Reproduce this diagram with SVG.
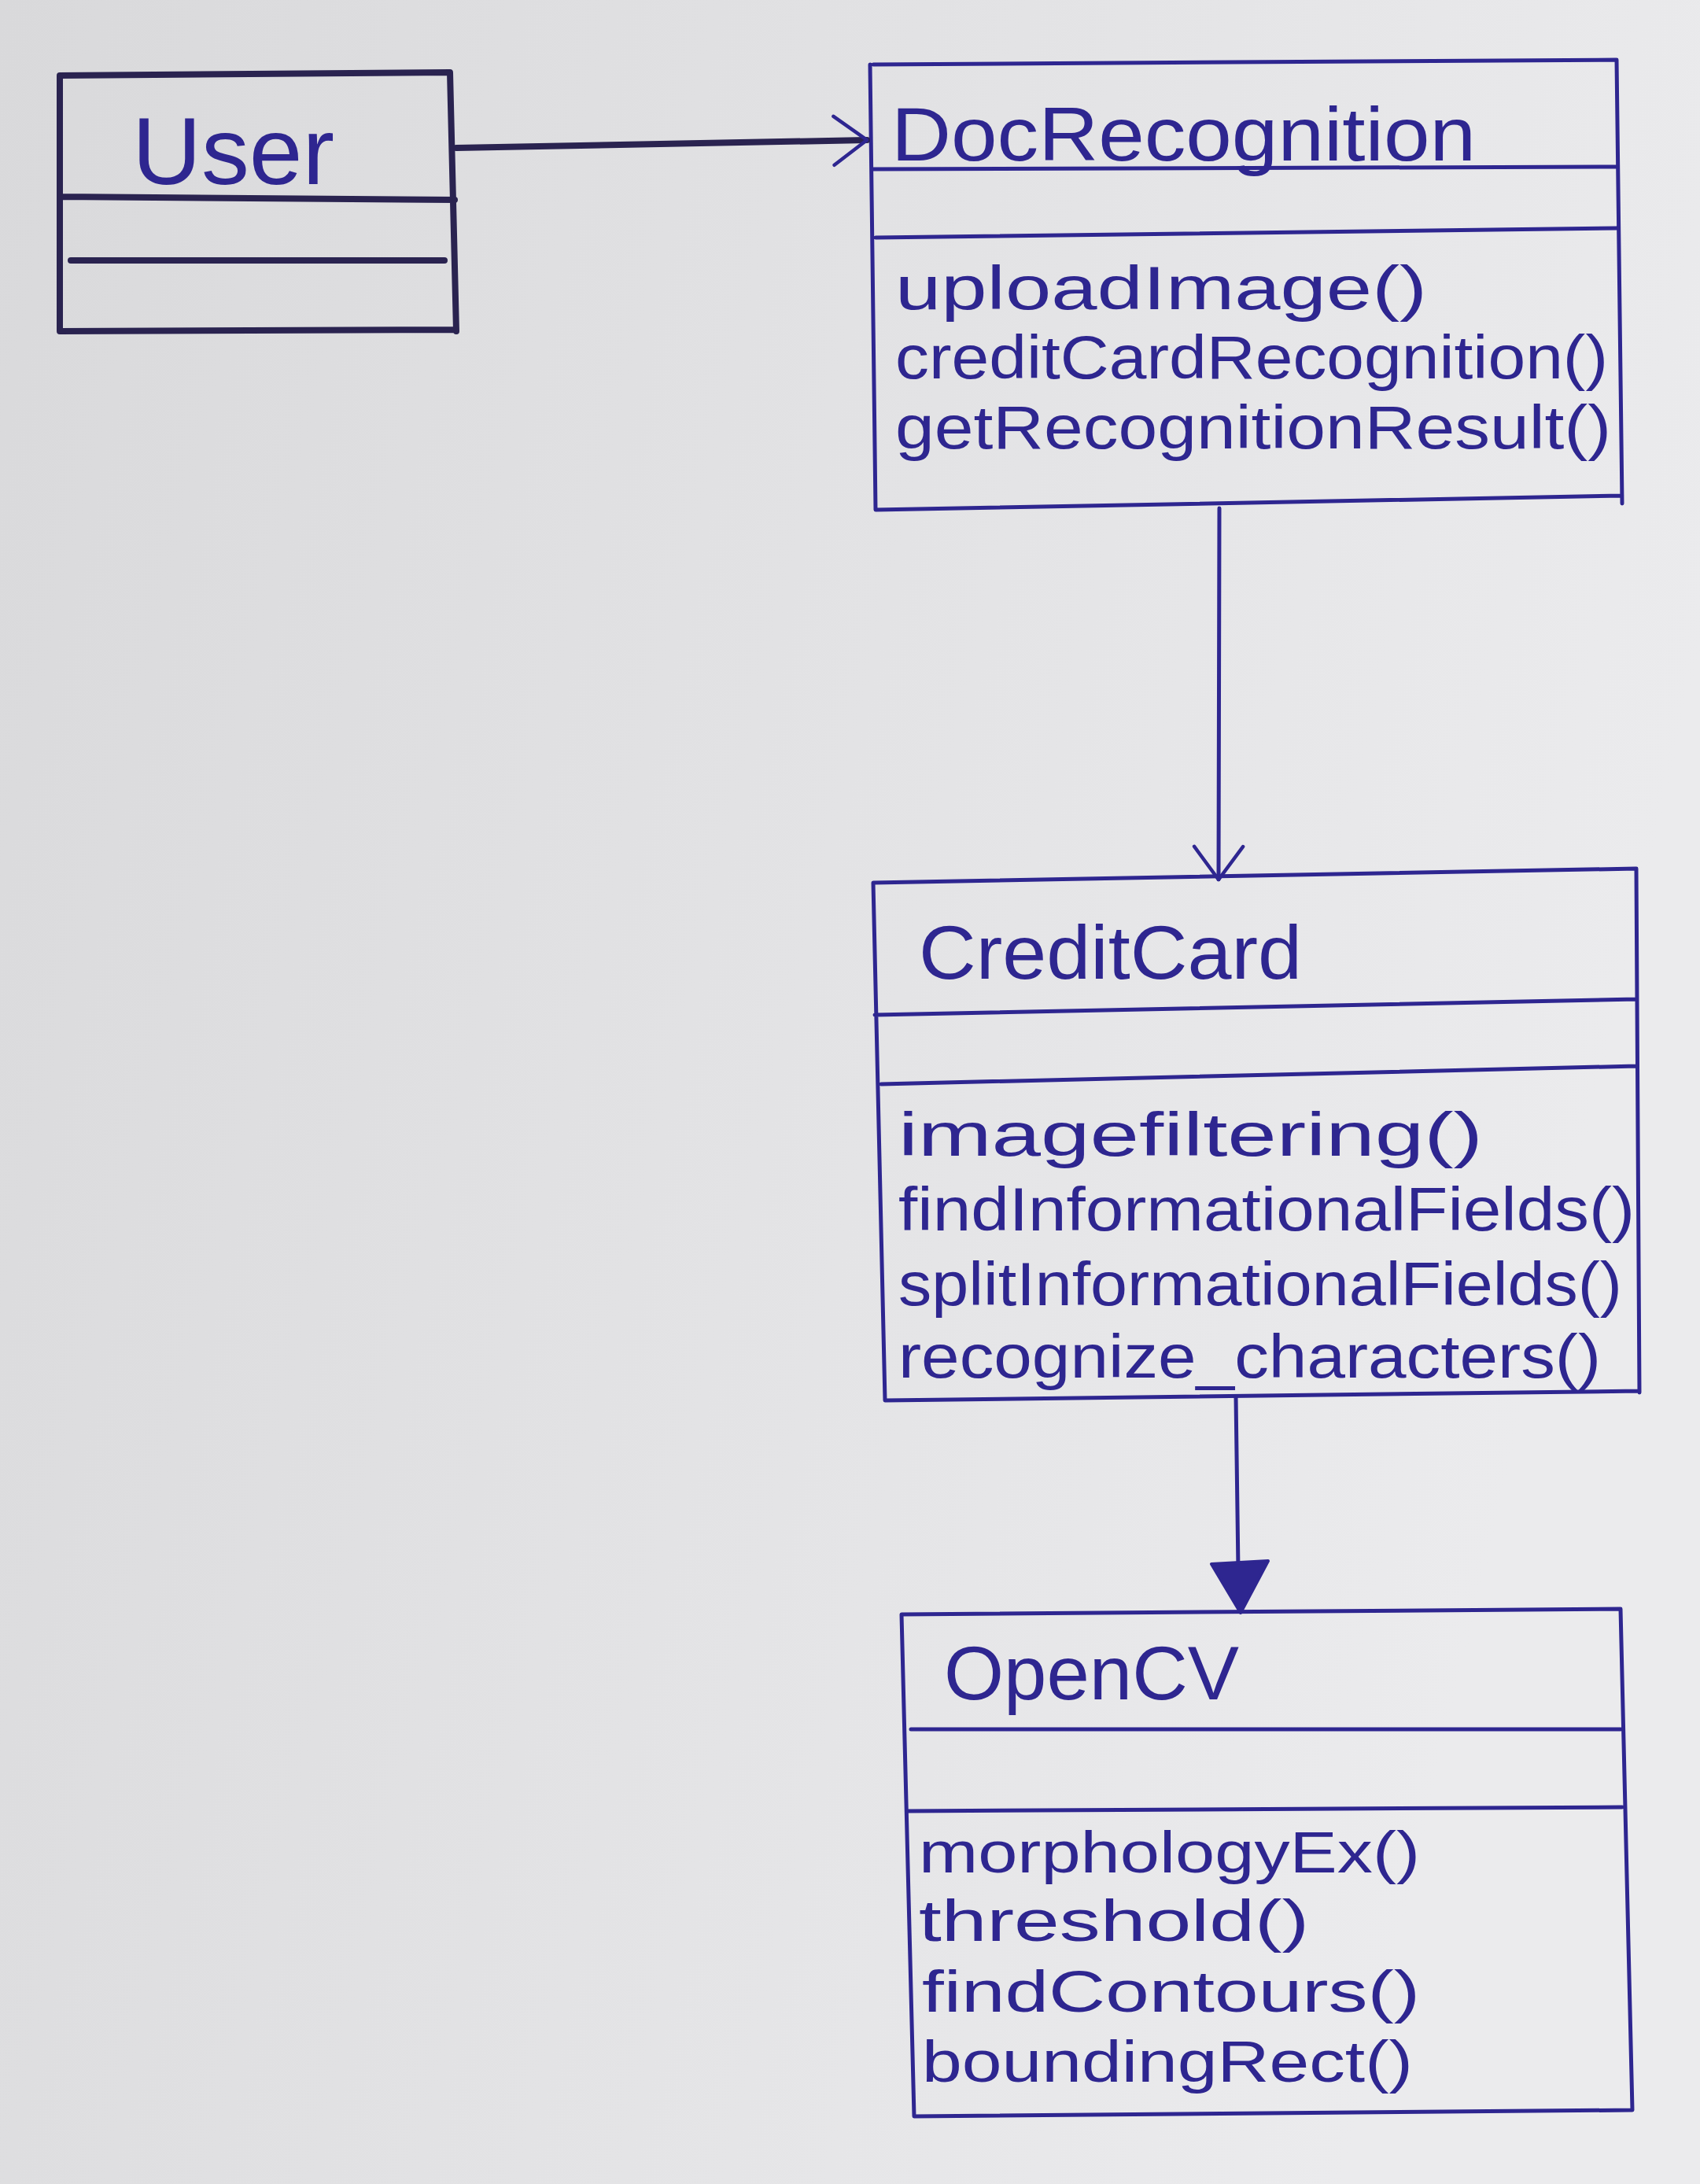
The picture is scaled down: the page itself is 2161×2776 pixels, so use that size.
<svg xmlns="http://www.w3.org/2000/svg" width="2161" height="2776" viewBox="0 0 2161 2776">
<defs>
<linearGradient id="paper" x1="0" y1="0" x2="1" y2="0.3">
<stop offset="0" stop-color="#d9d9db"/>
<stop offset="0.5" stop-color="#e2e2e4"/>
<stop offset="1" stop-color="#ebebed"/>
</linearGradient>
<marker id="open" viewBox="0 0 50 70" refX="48" refY="35" markerWidth="50" markerHeight="70" markerUnits="userSpaceOnUse" orient="auto">
<path d="M6,4 L48,35 L6,66" fill="none" stroke="#2e2690" stroke-width="4.5" stroke-linecap="round"/>
</marker>
<style>
.ink{fill:none;stroke:#2e2690;stroke-width:5;stroke-linecap:round;stroke-linejoin:round}
.dark{fill:none;stroke:#2a2350;stroke-width:8;stroke-linecap:round;stroke-linejoin:round}
.t{font-family:"Liberation Sans",Arial,sans-serif;fill:#2e2690}
.title{font-size:96px}
.m1{font-size:78px}
.m2{font-size:78px}
.m3{font-size:75px}
</style>
</defs>
<rect x="0" y="0" width="2161" height="2776" fill="url(#paper)"/>

<g id="User">
<path class="dark" d="M76,96 L572,92 L580,421 M76,96 L76,421 L578,419 M76,250 L578,254 M90,331 L565,331"/>
<text class="t" x="168" y="234" font-size="120" textLength="257" lengthAdjust="spacingAndGlyphs">User</text>
</g>

<g id="DocRecognition">
<path class="ink" d="M1110,82 L2055,76 L2062,640 M1106,82 L1113,648 L2062,630 M1110,215 L2055,212 M1113,302 L2055,290"/>
<text class="t title" x="1133" y="204" textLength="743" lengthAdjust="spacingAndGlyphs">DocRecognition</text>
<text class="t m1" x="1138" y="393" textLength="676" lengthAdjust="spacingAndGlyphs">uploadImage()</text>
<text class="t m1" x="1138" y="481" textLength="906" lengthAdjust="spacingAndGlyphs">creditCardRecognition()</text>
<text class="t m1" x="1138" y="570" textLength="910" lengthAdjust="spacingAndGlyphs">getRecognitionResult()</text>
</g>

<g id="CreditCard">
<path class="ink" d="M1110,1122 L2080,1104 L2084,1770 M1110,1122 L1125,1780 L2084,1768 M1112,1290 L2080,1270 M1120,1378 L2080,1355"/>
<text class="t title" x="1168" y="1244" textLength="487" lengthAdjust="spacingAndGlyphs">CreditCard</text>
<text class="t m2" x="1142" y="1469" textLength="743" lengthAdjust="spacingAndGlyphs">imagefiltering()</text>
<text class="t m2" x="1142" y="1564" textLength="936" lengthAdjust="spacingAndGlyphs">findInformationalFields()</text>
<text class="t m2" x="1142" y="1659" textLength="920" lengthAdjust="spacingAndGlyphs">splitInformationalFields()</text>
<text class="t m2" x="1142" y="1751" textLength="893" lengthAdjust="spacingAndGlyphs">recognize_characters()</text>
</g>

<g id="OpenCV">
<path class="ink" d="M1146,2052 L2060,2045 L2075,2682 M1146,2052 L1162,2690 L2075,2682 M1158,2198 L2060,2198 M1155,2302 L2062,2297"/>
<text class="t title" x="1200" y="2160" textLength="375" lengthAdjust="spacingAndGlyphs">OpenCV</text>
<text class="t m3" x="1168" y="2380" textLength="637" lengthAdjust="spacingAndGlyphs">morphologyEx()</text>
<text class="t m3" x="1168" y="2467" textLength="496" lengthAdjust="spacingAndGlyphs">threshold()</text>
<text class="t m3" x="1172" y="2557" textLength="633" lengthAdjust="spacingAndGlyphs">findContours()</text>
<text class="t m3" x="1172" y="2646" textLength="624" lengthAdjust="spacingAndGlyphs">boundingRect()</text>
</g>

<g id="connectors">
<path class="dark" d="M580,188 L1102,178" marker-end="url(#open)" stroke-width="6"/>
<path class="ink" d="M1550,646 L1549,1118" marker-end="url(#open)"/>
<path class="ink" d="M1571,1775 L1574,1995"/>
<path d="M1540,1988 L1612,1984 L1577,2050 Z" fill="#2e2690" stroke="#2e2690" stroke-width="4" stroke-linejoin="round"/>
</g>
</svg>
